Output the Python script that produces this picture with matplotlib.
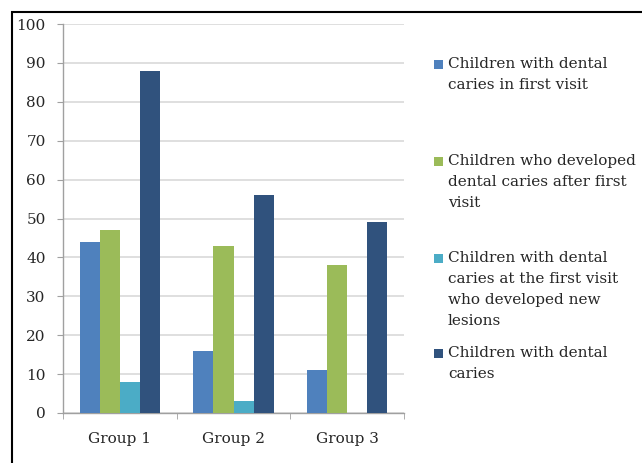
import matplotlib

matplotlib.use("Agg")
import matplotlib.pyplot as plt
from matplotlib.patches import Rectangle
import numpy as np

groups = ["Group 1", "Group 2", "Group 3"]
series_labels = [
    "Children with dental\ncaries in first visit",
    "Children who developed\ndental caries after first\nvisit",
    "Children with dental\ncaries at the first visit\nwho developed new\nlesions",
    "Children with dental\ncaries",
]
first_visit = [44, 16, 11]
developed_after = [47, 43, 38]
new_lesions = [8, 3, 0]
with_caries = [88, 56, 49]
yticks = [0, 10, 20, 30, 40, 50, 60, 70, 80, 90, 100]

colors = ["#4F81BD", "#9BBB59", "#4BACC6", "#30527D"]
text_color = "#262626"
font = "DejaVu Serif"
fsize = 11

fig = plt.figure(figsize=(6.42, 4.63), dpi=100, facecolor="white")

# outer frame, open on the right and bottom
fig.add_artist(Rectangle((12 / 642, -0.05), 1.1, 1 - 12 / 463 + 0.05,
                         transform=fig.transFigure, fill=False,
                         edgecolor="black", linewidth=1.5))

ax = fig.add_axes([63 / 642, 1 - 413 / 463, 341 / 642, 389 / 463])
x = np.arange(len(groups))
width = 0.176
bars = []
for i, vals in enumerate([first_visit, developed_after, new_lesions, with_caries]):
    b = ax.bar(x + (i - 1.5) * width, vals, width, color=colors[i],
               edgecolor="none", zorder=3)
    bars.append(b)

ax.set_xlim(-0.5, len(groups) - 0.5)
ax.set_ylim(0, 100)
ax.set_yticks(yticks)
ax.set_yticklabels([str(v) for v in yticks], fontfamily=font, fontsize=fsize,
                   color=text_color)
ax.set_xticks(x)
ax.set_xticklabels(groups, fontfamily=font, fontsize=fsize, color=text_color)
ax.set_xticks(np.arange(len(groups) + 1) - 0.5, minor=True)
ax.tick_params(axis="x", which="major", length=0, pad=14)
ax.tick_params(axis="x", which="minor", length=4, color="#A0A0A0", direction="out")
ax.tick_params(axis="y", length=4, color="#A0A0A0", direction="out", pad=8.5)
ax.grid(axis="y", color="#D9D9D9", linewidth=1.2, zorder=0)
for side in ["top", "right"]:
    ax.spines[side].set_visible(False)
for side in ["left", "bottom"]:
    ax.spines[side].set_color("#A0A0A0")
    ax.spines[side].set_linewidth(1.0)

# legend entries down the right side, one text line every 21 px
entry_first_line = [64, 161, 258, 353]
line_step = 21
for b, label, y0 in zip(bars, series_labels, entry_first_line):
    fig.add_artist(Rectangle((434 / 642, 1 - (y0 + 4.5) / 463), 9 / 642, 9 / 463,
                             transform=fig.transFigure,
                             facecolor=b.patches[0].get_facecolor(),
                             edgecolor="none"))
    for k, line in enumerate(label.split("\n")):
        fig.text(448 / 642, 1 - (y0 + k * line_step) / 463, line,
                 fontfamily=font, fontsize=fsize, color=text_color,
                 va="center")

fig.savefig("out.png", dpi=100, facecolor="white")
